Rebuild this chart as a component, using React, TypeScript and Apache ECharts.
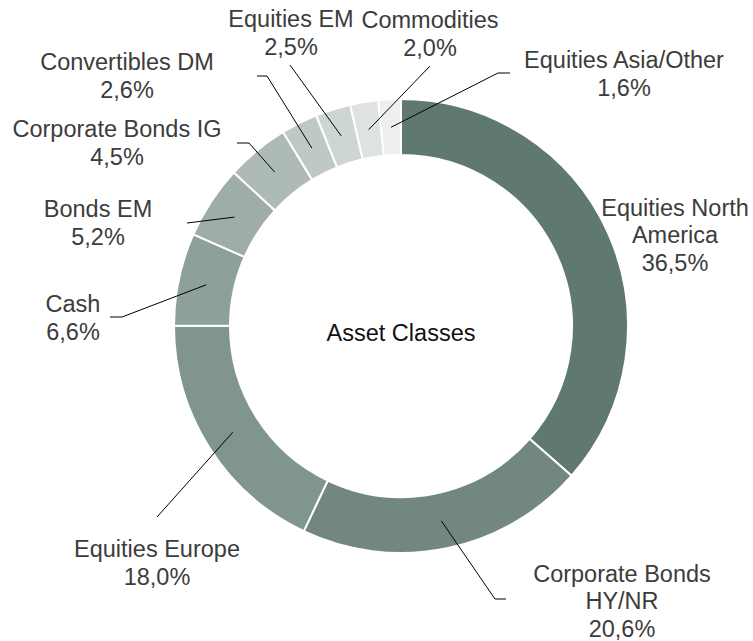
import React, { useEffect, useRef } from "react";
import * as echarts from "echarts";

const categories = [
  "Equities North\nAmerica",
  "Corporate Bonds\nHY/NR",
  "Equities Europe",
  "Cash",
  "Bonds EM",
  "Corporate Bonds IG",
  "Convertibles DM",
  "Equities EM",
  "Commodities",
  "Equities Asia/Other",
];
const values = [36.5, 20.6, 18.0, 6.6, 5.2, 4.5, 2.6, 2.5, 2.0, 1.6];
const colors = [
  "#5f7971",
  "#71877f",
  "#81958f",
  "#8ea09b",
  "#9eada9",
  "#adbab6",
  "#bec8c5",
  "#cdd6d3",
  "#dee3e1",
  "#edf0ef",
];

// label placement (text centre, optional elbow and end of the leader line)
type LP = { x: number; y: number; elbow?: number[]; end?: number[] };
const labelPos: LP[] = [
  { x: 675, y: 235 },
  { x: 622, y: 601, elbow: [495, 599], end: [506, 599] },
  { x: 157, y: 563, end: [157, 517] },
  { x: 73, y: 318, elbow: [122, 317], end: [110, 317] },
  { x: 98, y: 223, end: [187, 223] },
  { x: 117, y: 143, elbow: [249, 143], end: [237, 143] },
  { x: 127, y: 76, elbow: [267, 76], end: [257, 76] },
  { x: 291, y: 33, end: [290, 65] },
  { x: 430, y: 34, end: [430, 66] },
  { x: 624, y: 74, elbow: [498, 73], end: [510, 73] },
];

const FONT = "'Liberation Sans', Arial, sans-serif";

export default function App() {
  const ref = useRef<HTMLDivElement>(null);
  useEffect(() => {
    document.body.style.margin = "0";
    document.body.style.overflow = "hidden";
    const chart = echarts.init(ref.current!, undefined, { renderer: "svg" });
    const data = categories.map((name, i) => ({
      name,
      value: values[i],
      itemStyle: { color: colors[i] },
    }));
    const center = [401, 326];
    chart.setOption({
      animation: false,
      backgroundColor: "#ffffff",
      graphic: [
        {
          type: "text",
          x: 401,
          y: 333,
          style: {
            text: "Asset Classes",
            fill: "#111111",
            font: `23.5px ${FONT}`,
            textAlign: "center",
            textVerticalAlign: "middle",
          },
          z: 10,
        },
      ],
      series: [
        {
          type: "pie",
          center,
          radius: [171, 227],
          startAngle: 90,
          clockwise: true,
          silent: true,
          avoidLabelOverlap: false,
          label: { show: false },
          labelLine: { show: false },
          itemStyle: { borderColor: "#ffffff", borderWidth: 2 },
          data,
        },
        {
          type: "pie",
          center,
          radius: [0, 199],
          startAngle: 90,
          clockwise: true,
          silent: true,
          avoidLabelOverlap: false,
          z: 3,
          itemStyle: { color: "rgba(0,0,0,0)", borderWidth: 0 },
          label: {
            show: true,
            position: "outside",
            color: "#3c3c3c",
            fontSize: 23.5,
            lineHeight: 27.5,
            fontFamily: FONT,
            align: "center",
            formatter: (p: any) =>
              `${p.name}\n${Number(p.value).toFixed(1).replace(".", ",")}%`,
          },
          labelLine: {
            show: true,
            length: 10,
            length2: 10,
            smooth: false,
            lineStyle: { color: "#000000", width: 1 },
          },
          labelLayout: (params: any) => {
            const lp = labelPos[params.dataIndex];
            const start = params.labelLinePoints
              ? params.labelLinePoints[0]
              : [lp.x, lp.y];
            const res: any = {
              x: lp.x,
              y: lp.y,
              align: "center",
              verticalAlign: "middle",
            };
            if (lp.end) {
              const elbow = lp.elbow || lp.end;
              res.labelLinePoints = [start, elbow, lp.end];
            } else {
              res.labelLinePoints = [start, start, start];
            }
            return res;
          },
          data: data.map((d) => ({
            ...d,
            itemStyle: { color: "rgba(0,0,0,0)" },
          })),
        },
      ],
    });
    return () => chart.dispose();
  }, []);
  return <div ref={ref} style={{ width: 753, height: 641 }} />;
}
